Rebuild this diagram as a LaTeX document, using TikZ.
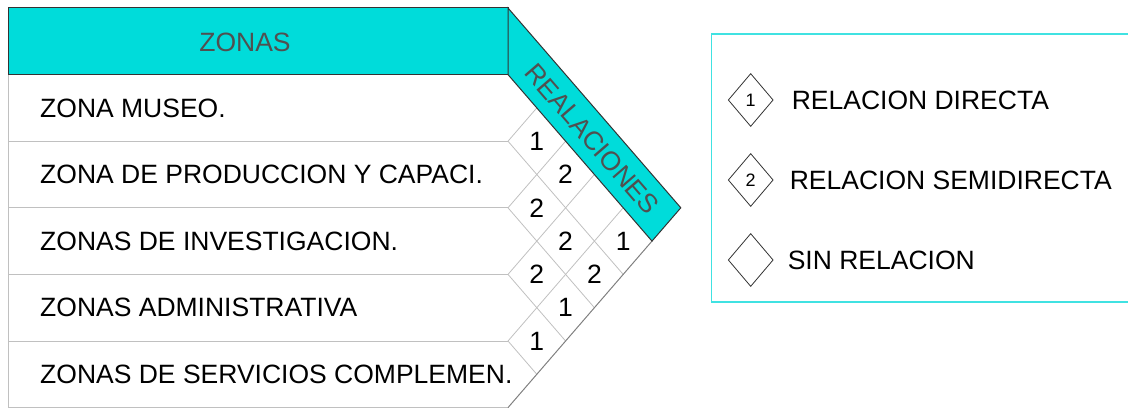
\documentclass[tikz,border=0pt]{standalone}
\usepackage{fontspec}
\setmainfont{Liberation Sans}
\usetikzlibrary{shapes.geometric,positioning}
\definecolor{headteal}{RGB}{0,220,218}
\definecolor{legcyan}{RGB}{64,226,226}
\definecolor{gridgray}{RGB}{192,192,192}
\definecolor{edgegray}{RGB}{128,128,128}
\definecolor{titlegray}{RGB}{80,80,80}
\newcommand{\bigtxt}{\fontsize{26.5}{30}\selectfont}
\newcommand{\smalltxt}{\fontsize{18}{20}\selectfont}
\tikzset{
  head/.style={fill=headteal,draw=black!80,line width=1pt},
  rowline/.style={draw=gridgray,line width=1pt},
  gridline/.style={draw=gridgray,line width=0.8pt},
  zlabel/.style={anchor=west,inner sep=0pt,font=\bigtxt},
  relnum/.style={inner sep=0pt,font=\bigtxt},
  legdia/.style={diamond,draw=black!80,line width=0.8pt,minimum width=45pt,
                 minimum height=53pt,inner sep=0pt,font=\smalltxt},
  legtxt/.style={anchor=west,inner sep=0pt,font=\bigtxt},
}

\begin{document}
\begin{tikzpicture}[x=1pt,y=1pt]
  \useasboundingbox (0,0) rectangle (1128,408);
  % rows
  \draw[rowline] (8,333.4) -- (8,0.4) -- (508,0.4);
  \foreach \k in {1,...,4}
    \draw[rowline] (8,{333.4-66.6*\k}) -- (508,{333.4-66.6*\k});
  \foreach \z [count=\k] in {ZONA MUSEO., ZONA DE PRODUCCION Y CAPACI.,
      ZONAS DE INVESTIGACION., ZONAS ADMINISTRATIVA, ZONAS DE SERVICIOS COMPLEMEN.}
    \node[zlabel] (zona\k) at (40,{333.4-66.6*(\k-0.5)}) {\z};
  % grid
  \foreach \k in {1,...,4} {
    \draw[gridline] (508,{333.4-66.6*\k}) -- ++({(5-\k)*28.8},{-(5-\k)*33.3});
    \draw[gridline] (508,{333.4-66.6*\k}) -- ++({\k*28.8},{\k*33.3});
  }
  \draw[draw=edgegray,line width=1pt] (508,0.4) -- (652,166.9);
  % header
  \path[head] (8,333.4) rectangle (508,400);
  \node[font=\bigtxt,text=titlegray] (zonas) at (245,366) {ZONAS};
  \path[head] (508,400) -- (508,333.4) -- (652,166.9) -- (680.8,200.2) -- cycle;
  \node[font=\bigtxt,text=titlegray,rotate=-49.1] (rela) at (592,269) {REALACIONES};
  % relations
  \foreach \i/\j/\v in {1/2/1,1/3/2,1/5/1,2/3/2,2/4/2,2/5/2,3/4/2,3/5/1,4/5/1}
    \node[relnum] (r\i\j) at ({508+(\j-\i)*28.8},{333.4-(\i+\j-1)*33.3}) {\v};
  % legend
  \draw[legcyan,line width=1.5pt] (1128,374) -- (711.5,374) -- (711.5,106) -- (1128,106);
  \node[legdia] (dir) at (750.7,308) {1};
  \node[legtxt,right=18pt of dir] (dirtxt) {RELACION DIRECTA};
  \node[legdia] (semi) at (750.7,228) {2};
  \node[legtxt,right=16pt of semi] (semitxt) {RELACION SEMIDIRECTA};
  \node[legdia] (sin) at (750.7,148) {};
  \node[legtxt,right=14pt of sin] (sintxt) {SIN RELACION};
\end{tikzpicture}
\end{document}
